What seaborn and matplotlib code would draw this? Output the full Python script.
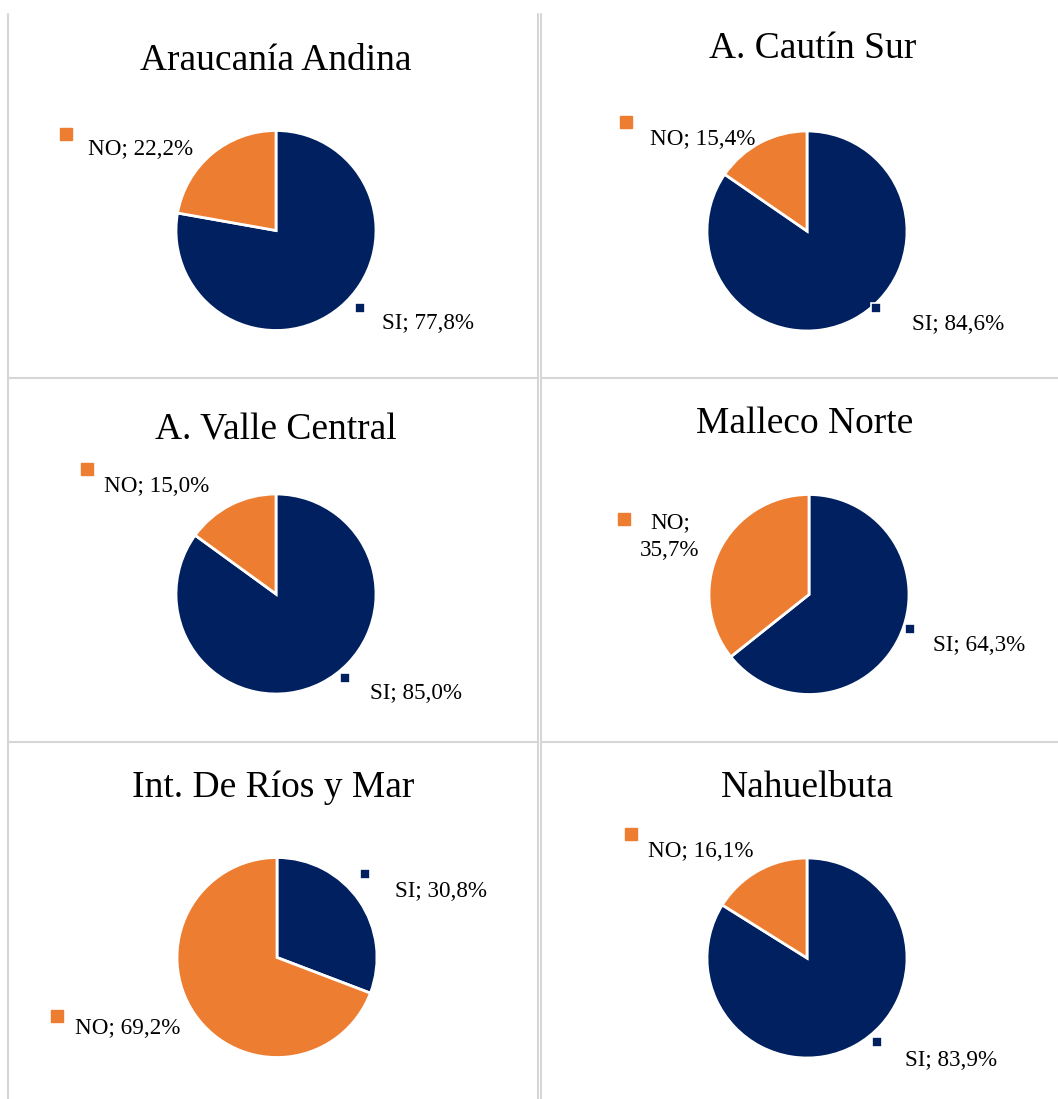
import seaborn as sns
import matplotlib.pyplot as plt
from matplotlib.lines import Line2D

# Data
panels = ["Araucanía Andina", "A. Cautín Sur", "A. Valle Central",
          "Malleco Norte", "Int. De Ríos y Mar", "Nahuelbuta"]
categories = ["SI", "NO"]
si_pct = [77.8, 84.6, 85.0, 64.3, 30.8, 83.9]
no_pct = [22.2, 15.4, 15.0, 35.7, 69.2, 16.1]

sns.set_theme(style="white")
plt.rcParams['font.family'] = ['Liberation Serif', 'DejaVu Serif']

navy = "#002060"
orange = "#ED7D31"
grid_col = "#d6d6d6"

W, H = 1058, 1099
fig = plt.figure(figsize=(W / 100, H / 100), dpi=100)

# table-like cell borders (pixel coords)
def px_line(x0, y0, x1, y1):
    fig.add_artist(Line2D([x0 / W, x1 / W], [1 - y0 / H, 1 - y1 / H],
                          color=grid_col, lw=1.5, transform=fig.transFigure))

px_line(8.3, 14, 8.3, H)
px_line(537.7, 14, 537.7, H)
px_line(541, 14, 541, H)
for yy in [378, 742]:
    px_line(8.3, yy, 537.7, yy)
    px_line(541, yy, W, yy)

# layout (pixel centres, radius) and label positions in pie-radius units
centres = [(276, 230.5), (807, 231), (276, 594), (809, 594.5), (277, 957.5), (807, 958)]
R = 100
title_y = [1.61, 1.73, 1.55, 1.615, 1.605, 1.61]
title_x = [0, 0.06, 0, -0.04, -0.04, 0]
# (square x, square y, text x, text y) for NO and SI
no_pos = [(-2.10, 0.965, -1.875, 0.83), (-1.81, 1.09, -1.57, 0.94),
          (-1.89, 1.25, -1.72, 1.10), (-1.85, 0.755, -1.39, 0.0),
          (-2.20, -0.585, -2.02, -0.685), (-1.76, 1.24, -1.59, 1.09)]
si_pos = [(0.835, -0.775, 1.055, -0.905), (0.69, -0.77, 1.05, -0.915),
          (0.69, -0.84, 0.94, -0.97), (1.01, -0.345, 1.24, -0.485),
          (0.88, 0.835, 1.18, 0.685), (0.70, -0.84, 0.98, -1.00)]


def fmt(v):
    return f"{v:.1f}".replace(".", ",") + "%"


LBL = 16.7
for i, name in enumerate(panels):
    cx, cy = centres[i]
    ax = fig.add_axes([(cx - R) / W, 1 - (cy + R) / H, 2 * R / W, 2 * R / H])
    ax.pie([si_pct[i], no_pct[i]], colors=[navy, orange], startangle=90,
           counterclock=False, radius=1,
           wedgeprops=dict(edgecolor="white", linewidth=2))
    ax.set_xlim(-1, 1)
    ax.set_ylim(-1, 1)
    ax.set_axis_off()

    ax.text(title_x[i], title_y[i], name, ha="center", va="baseline",
            fontsize=27, color="black")

    # NO label
    sx, sy, tx, ty = no_pos[i]
    ax.plot([sx], [sy], marker="s", ms=8.5, color=orange, mec=orange,
            clip_on=False, zorder=5)
    if i == 3:
        # wrapped label: two lines, centred
        ax.text(tx, 0.665, "NO;", ha="center", va="baseline",
                fontsize=LBL, color="black")
        ax.text(tx, 0.385, fmt(no_pct[i]), ha="center", va="baseline",
                fontsize=LBL, color="black")
    else:
        ax.text(tx, ty - 0.077, "NO; " + fmt(no_pct[i]), ha="left",
                va="baseline", fontsize=LBL, color="black")

    # SI label
    sx, sy, tx, ty = si_pos[i]
    ax.plot([sx], [sy], marker="s", ms=7, color=navy, mec="white", mew=1.2,
            clip_on=False, zorder=5)
    ax.text(tx, ty - 0.077, "SI; " + fmt(si_pct[i]), ha="left",
            va="baseline", fontsize=LBL, color="black")

fig.savefig("out.png", dpi=100)
